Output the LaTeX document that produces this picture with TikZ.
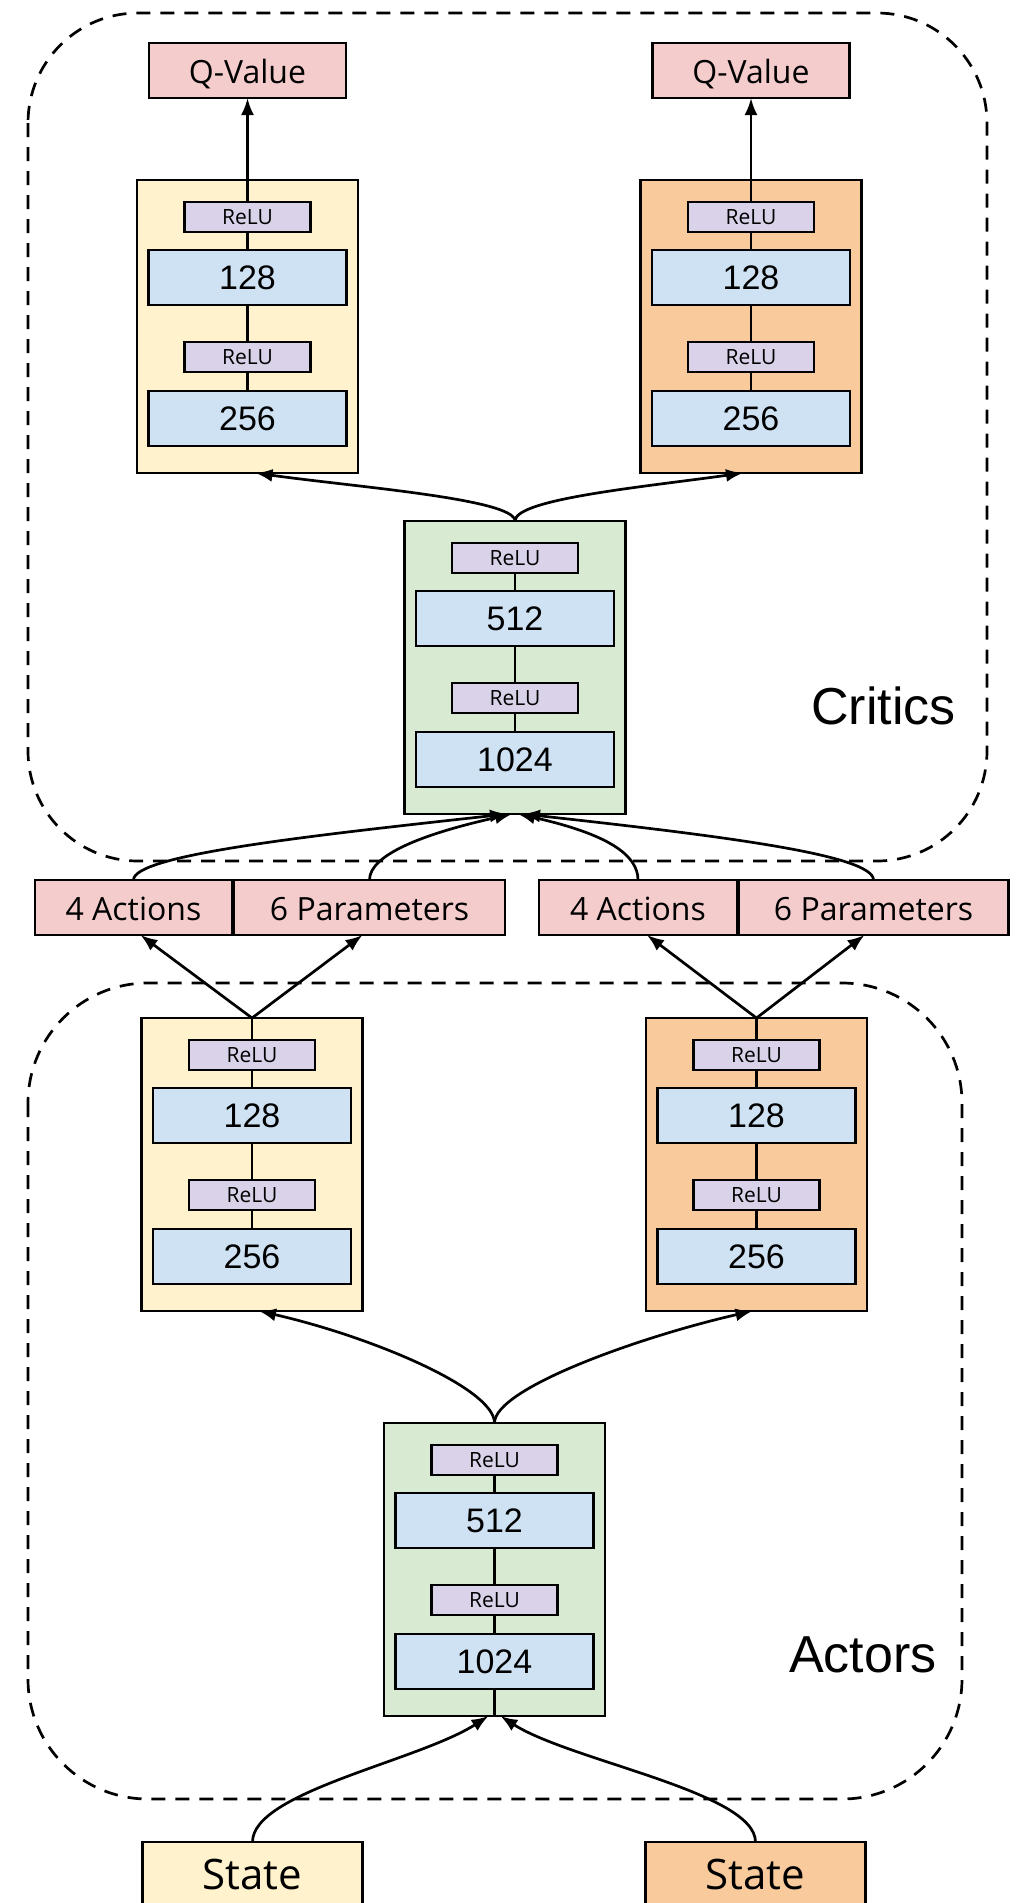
\documentclass[tikz,border=0pt]{standalone}
\usepackage{fontspec}
\setmainfont{Open Sans}
\newfontfamily\numfont{Liberation Sans}
\usetikzlibrary{arrows.meta,calc}

\definecolor{qpink}{HTML}{F4CCCC}
\definecolor{ylw}{HTML}{FFF2CC}
\definecolor{orn}{HTML}{F9CB9C}
\definecolor{grn}{HTML}{D9EAD3}
\definecolor{blu}{HTML}{CFE2F3}
\definecolor{prp}{HTML}{D9D2E9}

\tikzset{
  box/.style={draw=black, line width=1.35pt, inner sep=0pt, outer sep=0pt},
  blockbox/.style={box, minimum width=110.5pt, minimum height=146.5pt},
  relubox/.style={box, fill=prp, minimum width=63pt, minimum height=15pt,
    font=\fontsize{10.5}{12}\selectfont},
  unitbox/.style={box, fill=blu, minimum width=99pt, minimum height=27.5pt,
    font=\numfont\fontsize{17}{20}\selectfont},
  outbox/.style={box, fill=qpink, minimum height=27.5pt,
    text height=13pt, text depth=0pt,
    font=\fontsize{16}{19}\selectfont},
  statebox/.style={box, minimum width=110pt, minimum height=32pt,
    font=\fontsize{21}{25}\selectfont},
  wire/.style={line width=1.35pt},
  flow/.style={line width=1.35pt, -{Latex[length=8.5pt,width=6.5pt]}},
  groupbox/.style={line width=1.35pt, dash pattern=on 7pt off 5pt},
  grouplabel/.style={font=\numfont\fontsize{26}{30}\selectfont,
    anchor=base east, inner sep=0pt},
}

% one dense stack: ReLU / units / ReLU / units inside a coloured block
% #1 name, #2 centre x, #3 top y, #4 fill, #5 upper units, #6 lower units
\newcommand\netblock[6]{%
  \node[blockbox, fill=#4] (#1) at (#2, #3+147.5) {};
  \node[relubox] (#1-r1) at (#2, #3+38) {ReLU};
  \node[unitbox] (#1-h1) at (#2, #3+98.5) {#5};
  \node[relubox] (#1-r2) at (#2, #3+178) {ReLU};
  \node[unitbox] (#1-h2) at (#2, #3+239.5) {#6};
  \draw[wire] (#1-r1) -- (#1-h1) (#1-h1) -- (#1-r2) (#1-r2) -- (#1-h2);
}

\begin{document}
\begin{tikzpicture}[x=0.5pt, y=-0.5pt]
\useasboundingbox (0,0) rectangle (1019,1903);

% dashed groups
\draw[groupbox, rounded corners=55pt] (28,13) rectangle (987,861);
\draw[groupbox, rounded corners=60pt] (28,983) rectangle (962,1799);
\node[grouplabel] (critics) at (956,724) {Critics};
\node[grouplabel] (actors) at (937,1672) {Actors};

% critics
\node[outbox, minimum width=98.5pt] (qy) at (247.5,70.5) {Q-Value};
\node[outbox, minimum width=98.5pt] (qo) at (751,70.5) {Q-Value};
\netblock{cy}{247.5}{179}{ylw}{128}{256}
\netblock{co}{751}{179}{orn}{128}{256}
\netblock{cg}{515}{520}{grn}{512}{1024}

% action outputs
\node[outbox, minimum width=98.5pt] (a1) at (133.5,907.5) {4 Actions};
\node[outbox, minimum width=135.5pt] (p1) at (369.5,907.5) {6 Parameters};
\node[outbox, minimum width=99pt] (a2) at (638,907.5) {4 Actions};
\node[outbox, minimum width=135pt] (p2) at (873.5,907.5) {6 Parameters};

% actors
\netblock{ay}{252}{1017}{ylw}{128}{256}
\netblock{ao}{756.5}{1017}{orn}{128}{256}
\netblock{ag}{494.5}{1422}{grn}{512}{1024}

% inputs
\node[statebox, fill=ylw] (sy) at (252.5,1874) {State};
\node[statebox, fill=orn] (so) at (755.5,1874) {State};

% critic heads to Q-values
\draw[flow] (cy-r1.north) -- (qy.south);
\draw[flow] (co-r1.north) -- (qo.south);

% critic trunk to heads
\draw[flow] (cg.north) .. controls +(0,-22) and +(100,14) .. ([xshift=4pt]cy.south);
\draw[flow] (cg.north) .. controls +(0,-22) and +(-100,14) .. ([xshift=-4pt]co.south);

% actions and parameters into the critic trunk
\draw[flow] (a1.north) .. controls +(0,-25) and +(-200,22) .. ([xshift=-4pt]cg.south);
\draw[flow] (p1.north) .. controls +(0,-25) and +(-90,20) .. ([xshift=-1.5pt]cg.south);
\draw[flow] (a2.north) .. controls +(0,-25) and +(90,20) .. ([xshift=1.5pt]cg.south);
\draw[flow] (p2.north) .. controls +(0,-25) and +(200,22) .. ([xshift=4pt]cg.south);

% actor heads to actions and parameters
\draw[wire] (ay-r1.north) -- (ay.north);
\draw[flow] (ay.north) -- ([xshift=3.5pt]a1.south);
\draw[flow] (ay.north) -- ([xshift=-3.5pt]p1.south);
\draw[wire] (ao-r1.north) -- (ao.north);
\draw[flow] (ao.north) -- ([xshift=4.5pt]a2.south);
\draw[flow] (ao.north) -- ([xshift=-4.5pt]p2.south);

% actor trunk to heads
\draw[flow] (ag.north) .. controls +(0,-35) and +(110,25) .. ([xshift=3.5pt]ay.south);
\draw[flow] (ag.north) .. controls +(0,-35) and +(-110,25) .. ([xshift=-2pt]ao.south);
\draw[wire] (ag-h2.south) -- (ag.south);

% states into the actor trunk
\draw[flow] (sy.north) .. controls +(0,-50) and +(-70,45) .. ([xshift=-3pt]ag.south);
\draw[flow] (so.north) .. controls +(0,-50) and +(70,45) .. ([xshift=3pt]ag.south);
\end{tikzpicture}
\end{document}
